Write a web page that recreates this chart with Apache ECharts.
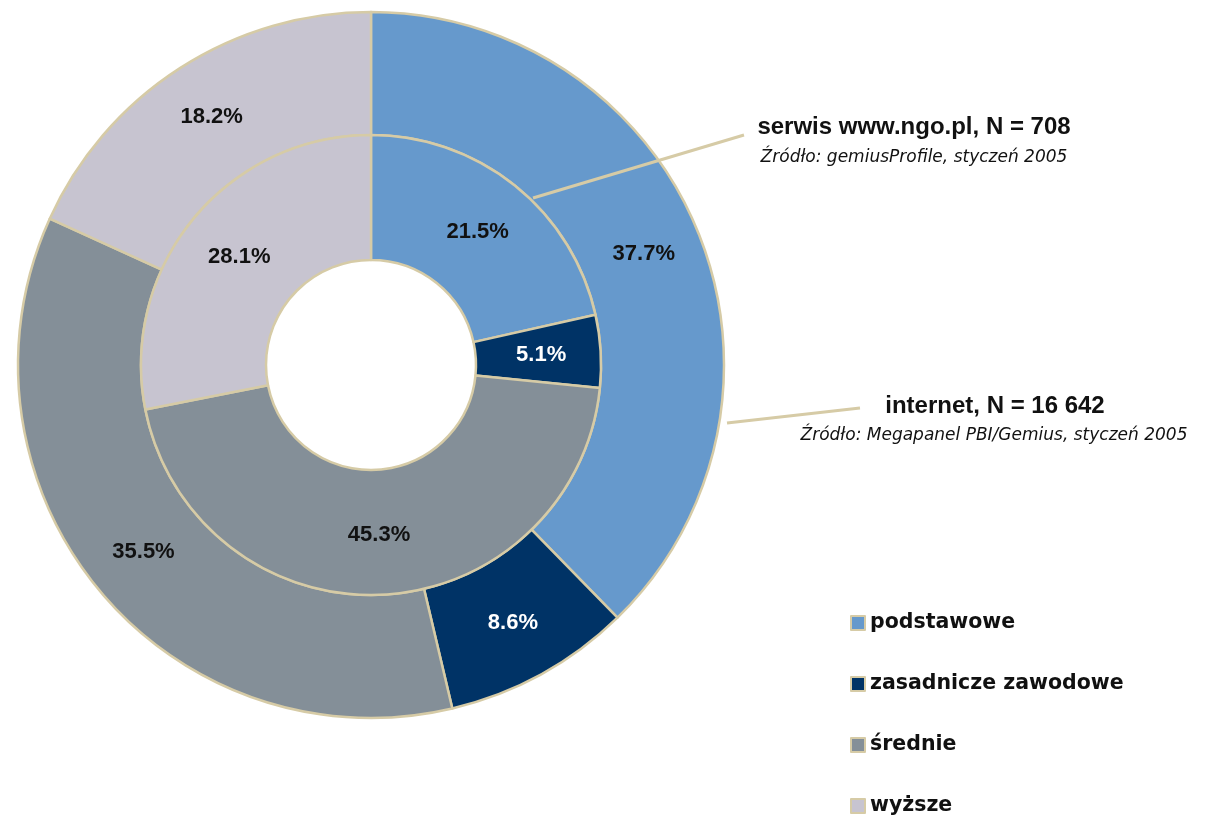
<!DOCTYPE html>
<html>
<head>
<meta charset="utf-8">
<title>Wykształcenie</title>
<script src="https://cdn.jsdelivr.net/npm/echarts@6/dist/echarts.min.js"></script>
<style>
  html, body { margin: 0; padding: 0; background: #fff; }
  #chart { width: 1215px; height: 819px; }
</style>
</head>
<body>
<div id="chart"></div>
<script>
// categories (clockwise from the top)
const categories = ['podstawowe', 'zasadnicze zawodowe', 'średnie', 'wyższe']
const colors = ['#6699CC', '#003366', '#848F98', '#C7C4D0']
// inner ring: serwis www.ngo.pl
const ngoValues = [21.5, 5.1, 45.3, 28.1]
// outer ring: internet
const internetValues = [37.7, 8.6, 35.5, 18.2]

const border = '#D6CBA6'
const center = [371, 365]

function ringData(values) {
  return categories.map((name, i) => ({
    name: name,
    value: values[i],
    itemStyle: { color: colors[i] },
    label: { color: i === 1 ? '#ffffff' : '#111111' }
  }))
}

const ringBase = {
  type: 'pie',
  center: center,
  startAngle: 90,
  clockwise: true,
  silent: true,
  animation: false,
  itemStyle: { borderColor: border, borderWidth: 2.5 },
  label: {
    show: true,
    position: 'inside',
    formatter: p => p.value.toFixed(1) + '%',
    fontFamily: 'Arial, "Liberation Sans"',
    fontWeight: 'bold',
    fontSize: 22
  },
  labelLine: { show: false },
  emphasis: { disabled: true }
}

const titleFont = { fontFamily: 'Arial, "Liberation Sans"', fontWeight: 'bold', fontSize: 24, fill: '#111' }
const sourceFont = { fontFamily: '"DejaVu Sans", Verdana', fontStyle: 'italic', fontSize: 17, fill: '#111' }

const option = {
  backgroundColor: '#ffffff',
  legend: {
    orient: 'vertical',
    left: 845,
    top: 606,
    height: 260,
    itemWidth: 14,
    itemHeight: 14,
    itemGap: 37,
    selectedMode: false,
    icon: 'rect',
    data: categories,
    textStyle: {
      fontFamily: '"DejaVu Sans", Verdana',
      fontWeight: 'bold',
      fontSize: 20.5,
      lineHeight: 24,
      color: '#111111'
    }
  },
  series: [
    Object.assign({}, ringBase, {
      name: 'internet',
      radius: [230, 353],
      data: ringData(internetValues)
    }),
    Object.assign({}, ringBase, {
      name: 'serwis',
      radius: [105, 230],
      data: ringData(ngoValues)
    })
  ],
  graphic: [
    {
      type: 'line', z: 100,
      shape: { x1: 533, y1: 198, x2: 744, y2: 135 },
      style: { stroke: border, lineWidth: 3 }
    },
    {
      type: 'line', z: 100,
      shape: { x1: 727, y1: 423, x2: 860, y2: 408 },
      style: { stroke: border, lineWidth: 3 }
    },
    {
      type: 'text', z: 100,
      x: 914, y: 127,
      style: Object.assign({ text: 'serwis www.ngo.pl, N = 708', align: 'center', verticalAlign: 'middle' }, titleFont)
    },
    {
      type: 'text', z: 100,
      x: 914, y: 158,
      style: Object.assign({ text: 'Źródło: gemiusProfile, styczeń 2005', align: 'center', verticalAlign: 'middle' }, sourceFont)
    },
    {
      type: 'text', z: 100,
      x: 995, y: 406,
      style: Object.assign({ text: 'internet, N = 16 642', align: 'center', verticalAlign: 'middle' }, titleFont)
    },
    {
      type: 'text', z: 100,
      x: 994, y: 436,
      style: Object.assign({ text: 'Źródło: Megapanel PBI/Gemius, styczeń 2005', align: 'center', verticalAlign: 'middle' }, sourceFont)
    }
  ]
}

const chart = echarts.init(document.getElementById('chart'))
chart.setOption(option)
</script>
</body>
</html>
